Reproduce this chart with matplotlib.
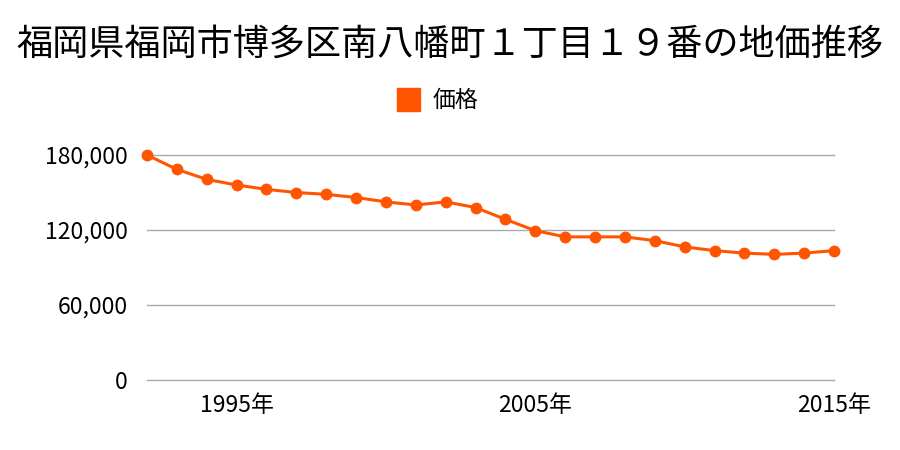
import matplotlib
matplotlib.use('Agg')
import matplotlib.pyplot as plt
from matplotlib.ticker import FuncFormatter

plt.rcParams['font.family'] = ['Noto Sans CJK JP', 'DejaVu Sans']

# 地価 (円/m2), 1992-2015
years = list(range(1992, 2016))
prices = [180000, 168500, 160500, 156000, 152500, 150000, 148500, 146000,
          142500, 140000, 142500, 138000, 128500, 119500, 114500, 114500,
          114500, 111500, 106500, 103500, 101500, 100500, 101500, 103500]

title = '福岡県福岡市博多区南八幡町１丁目１９番の地価推移'
series_name = '価格'
xticks = [1995, 2005, 2015]
yticks = [0, 60000, 120000, 180000]

color = '#ff5500'

fig = plt.figure(figsize=(9, 4.5), dpi=100)
ax = fig.add_axes([147/900, 1-380/450, (834-147)/900, (380-155)/450])

ax.plot(years, prices, color=color, lw=2.2, marker='o', ms=7.5,
        clip_on=False, zorder=3, label=series_name)

ax.set_xlim(1992, 2015)
ax.set_ylim(0, 180000)
ax.set_xticks(xticks)
ax.set_xticklabels([str(y) + '年' for y in xticks])
ax.set_yticks(yticks)
ax.yaxis.set_major_formatter(FuncFormatter(lambda v, p: '{:,}'.format(int(v))))
ax.grid(axis='y', color='#aaaaaa', lw=1)
for gl in ax.get_ygridlines():
    gl.set_clip_on(False)
ax.set_axisbelow(True)
for s in ax.spines.values():
    s.set_visible(False)
ax.tick_params(axis='both', length=0, labelsize=16.5)
ax.tick_params(axis='x', pad=10)
ax.tick_params(axis='y', pad=14)

fig.text(0.5, 1-45/450, title, ha='center', va='center', fontsize=26)

# 凡例
fig.patches.append(plt.Rectangle((397/900, 1-111/450), 23/900, 23/450,
                                 transform=fig.transFigure, color=color))
fig.text(433/900, 1-100/450, series_name, ha='left', va='center', fontsize=16.5)

fig.savefig('out.png', dpi=100)
